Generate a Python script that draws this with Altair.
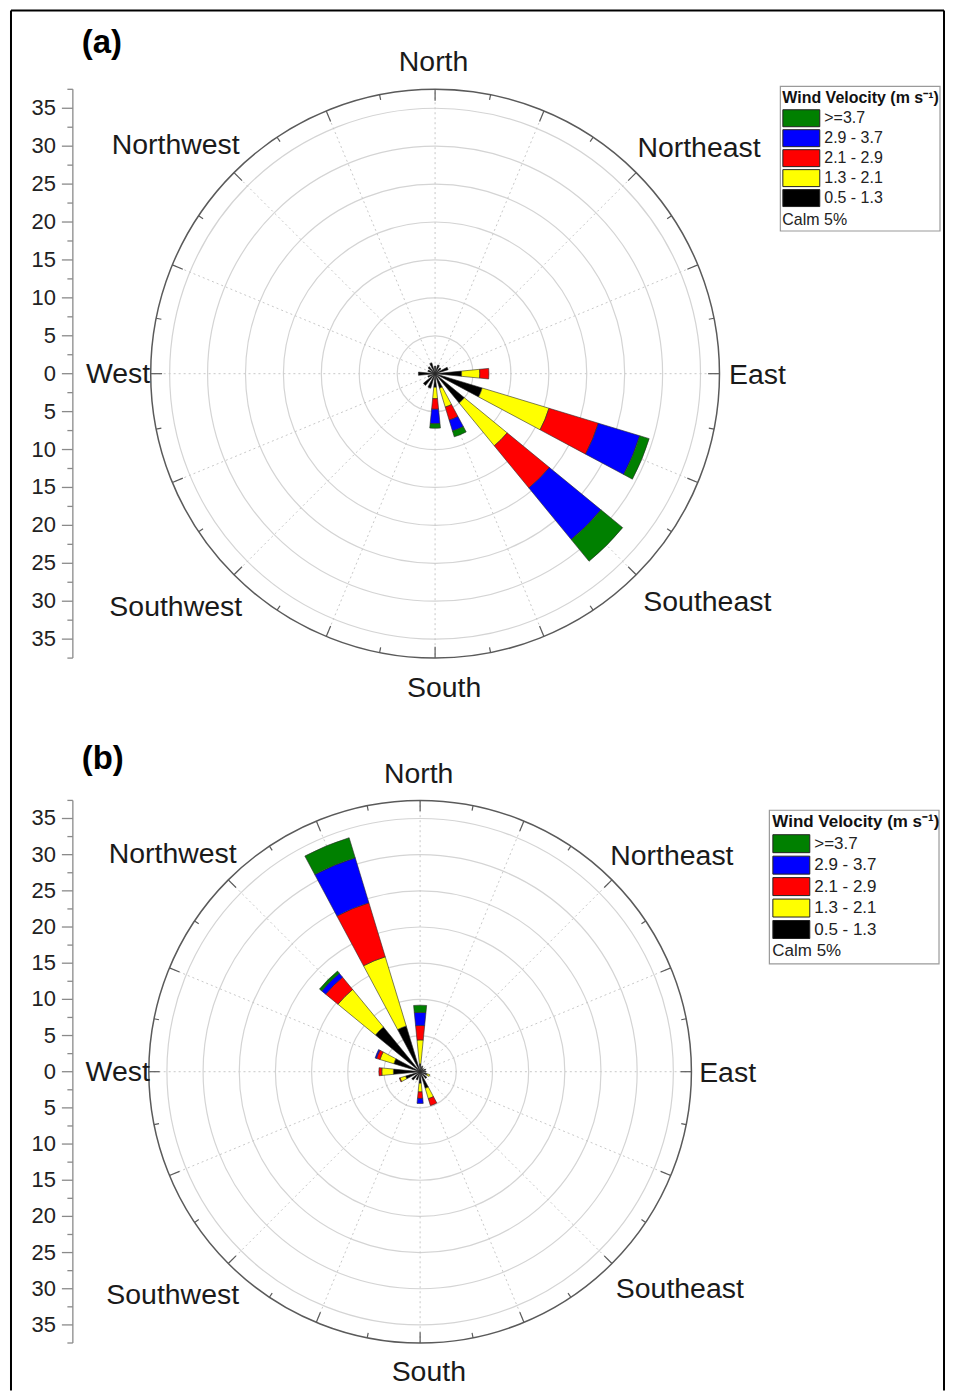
import altair as alt
import pandas as pd
import numpy as np

# ---------------- data ----------------
DIRECTIONS = ["N", "NNE", "NE", "ENE", "E", "ESE", "SE", "SSE",
              "S", "SSW", "SW", "WSW", "W", "WNW", "NW", "NNW"]
DIR_DEG = [0, 22.5, 45, 67.5, 90, 112.5, 135, 157.5,
           180, 202.5, 225, 247.5, 270, 292.5, 315, 337.5]

# speed classes from inner (stacked first) to outer
CLASSES = ["0.5 - 1.3", "1.3 - 2.1", "2.1 - 2.9", "2.9 - 3.7", ">=3.7"]
LEGEND_ORDER = [">=3.7", "2.9 - 3.7", "2.1 - 2.9", "1.3 - 2.1", "0.5 - 1.3"]
LEGEND_COLORS = ["#008000", "#0000ff", "#ff0000", "#ffff00", "#000000"]

# Panel (a): frequency (%) per direction for each wind speed class
A_05_13 = [1.0, 1.2, 1.0, 1.8, 3.5, 6.5, 5.0, 2.0, 1.8, 2.0, 2.0, 1.0, 2.2, 1.0, 1.2, 1.5]
A_13_21 = [0, 0, 0, 0, 2.4, 9.2, 7.3, 2.6, 1.5, 0, 0, 0, 0, 0, 0, 0]
A_21_29 = [0, 0, 0, 0, 1.2, 6.8, 7.2, 1.8, 1.4, 0, 0, 0, 0, 0, 0, 0]
A_29_37 = [0, 0, 0, 0, 0, 5.7, 8.8, 1.5, 1.9, 0, 0, 0, 0, 0, 0, 0]
A_GE_37 = [0, 0, 0, 0, 0, 1.3, 3.7, 0.8, 0.6, 0, 0, 0, 0, 0, 0, 0]

# Panel (b)
B_05_13 = [1.1, 0.8, 0.6, 0.8, 0.8, 1.0, 1.2, 2.4, 1.6, 1.2, 1.5, 2.1, 3.7, 3.8, 8.0, 6.6]
B_13_21 = [3.3, 0, 0, 0, 0, 0.4, 0, 1.5, 1.2, 0, 0, 0.8, 1.6, 2.0, 6.7, 10.0]
B_21_29 = [2.0, 0, 0, 0, 0, 0, 0, 1.0, 0.9, 0, 0, 0.1, 0.4, 0.5, 2.2, 7.8]
B_29_37 = [1.8, 0, 0, 0, 0, 0, 0, 0, 0.7, 0, 0, 0, 0, 0.2, 0.7, 6.5]
B_GE_37 = [1.0, 0, 0, 0, 0, 0, 0, 0, 0, 0, 0, 0, 0, 0, 0.4, 2.9]

RING_VALUES = [5, 10, 15, 20, 25, 30, 35]
R_MAX = 37.5
AXIS_MAJOR = [-35, -30, -25, -20, -15, -10, -5, 0, 5, 10, 15, 20, 25, 30, 35]
AXIS_MINOR = [-37.5, -32.5, -27.5, -22.5, -17.5, -12.5, -7.5, -2.5,
              2.5, 7.5, 12.5, 17.5, 22.5, 27.5, 32.5, 37.5]
COMPASS_LABELS = ["North", "Northeast", "East", "Southeast",
                  "South", "Southwest", "West", "Northwest"]
CALM_TEXT = "Calm 5%"
LEGEND_TITLE = "Wind Velocity (m s\u207b\u00b9)"

# ---------------- layout constants ----------------
FONT = "Liberation Sans"
BAR_HALF_WIDTH = 5.625
PLOT_LEFT, PLOT_RIGHT = 72, 935
AXIS_GRAY = "#8a8a8a"
FRAME = dict(left=10, right=945, top=9, bottom=1392)   # page pixels of the figure frame
LABEL_POS = {  # label centres, in radial units relative to the rose centre
    "North": (-0.2, 41.1), "Northeast": (34.8, 29.8), "East": (42.5, -0.2),
    "Southeast": (35.9, -30.1), "South": (1.2, -41.5), "Southwest": (-34.2, -30.8),
    "West": (-41.8, 0.0), "Northwest": (-34.2, 30.1),
}


def segments_frame(series):
    rows = []
    for i, (d, deg) in enumerate(zip(DIRECTIONS, DIR_DEG)):
        cum = 0.0
        for cls, vals in zip(CLASSES, series):
            v = vals[i]
            if v > 0:
                rows.append(dict(dir=d, cls=cls, t0=deg - BAR_HALF_WIDTH, t1=deg + BAR_HALF_WIDTH,
                                 r0=cum, r1=cum + v, cx=0.0, cy=0.0))
                cum += v
    return pd.DataFrame(rows)


def panel(tag, series, px, cx_page, cy_page, legend_xy, legend_font, sym_h, row_pad,
          box, calm_xy, tag_xy, with_frame):
    xdom = [(PLOT_LEFT - cx_page) / px, (PLOT_RIGHT - cx_page) / px]
    W = PLOT_RIGHT - PLOT_LEFT
    H = 2 * R_MAX * px
    xs = alt.Scale(domain=xdom, nice=False, zero=False)
    ys = alt.Scale(domain=[-R_MAX, R_MAX], nice=False, zero=False)
    rs = alt.Scale(type="linear", domain=[0, R_MAX], range=[0, R_MAX * px], zero=True)
    ts = alt.Scale(domain=[0, 360], range=[0, 2 * np.pi], zero=True)

    X = lambda f: alt.X(f, type="quantitative", scale=xs, axis=None)
    Y = lambda f: alt.Y(f, type="quantitative", scale=ys, axis=None)
    ux = lambda p: (p - cx_page) / px
    uy = lambda p: (cy_page - p) / px

    layers = []

    # ---- figure frame (left, top, right) ----
    if with_frame:
        fr = pd.DataFrame({
            "x0": [ux(FRAME["left"]), ux(FRAME["left"]), ux(FRAME["right"])],
            "x1": [ux(FRAME["left"]), ux(FRAME["right"]), ux(FRAME["right"])],
            "y0": [uy(FRAME["bottom"]), uy(FRAME["top"]), uy(FRAME["top"])],
            "y1": [uy(FRAME["top"]), uy(FRAME["top"]), uy(FRAME["bottom"])],
        })
        layers.append(alt.Chart(fr).mark_rule(stroke="#000", strokeWidth=2).encode(
            x=X("x0"), x2="x1:Q", y=Y("y0"), y2="y1:Q"))

    # ---- left value axis: domain line, major/minor ticks, labels ----
    ax_x = xdom[0]
    dom_df = pd.DataFrame({"x": [ax_x], "y0": [-R_MAX], "y1": [R_MAX]})
    layers.append(alt.Chart(dom_df).mark_rule(stroke=AXIS_GRAY, strokeWidth=1.3).encode(
        x=X("x"), y=Y("y0"), y2="y1:Q"))
    major = pd.DataFrame({"v": AXIS_MAJOR, "x0": ax_x - 11.0 / px, "x1": ax_x,
                          "lab": [str(abs(v)) for v in AXIS_MAJOR], "lx": ax_x - 17.0 / px})
    layers.append(alt.Chart(major).mark_rule(stroke=AXIS_GRAY, strokeWidth=1.3).encode(
        x=X("x0"), x2="x1:Q", y=Y("v")))
    layers.append(alt.Chart(major).mark_text(font=FONT, fontSize=22, color="#222",
                                             align="right", baseline="middle").encode(
        x=X("lx"), y=Y("v"), text="lab:N"))
    minor = pd.DataFrame({"v": AXIS_MINOR, "x0": ax_x - 5.5 / px, "x1": ax_x})
    layers.append(alt.Chart(minor).mark_rule(stroke=AXIS_GRAY, strokeWidth=1.3).encode(
        x=X("x0"), x2="x1:Q", y=Y("v")))

    # rings
    rings = pd.DataFrame({"r": RING_VALUES, "t0": 0.0, "t1": 360.0, "cx": 0.0, "cy": 0.0})
    layers.append(alt.Chart(rings).mark_arc(filled=False, stroke="#d4d4d4", strokeWidth=1.2).encode(
        x=X("cx"), y=Y("cy"),
        theta=alt.Theta("t0:Q", scale=ts, stack=False), theta2="t1:Q",
        radius=alt.Radius("r:Q", scale=rs, stack=False)))

    # dashed spokes every 22.5 degrees
    ang = np.radians(np.array(DIR_DEG))
    spokes = pd.DataFrame({"x0": 0.0, "y0": 0.0, "x1": R_MAX * np.sin(ang), "y1": R_MAX * np.cos(ang)})
    layers.append(alt.Chart(spokes).mark_rule(stroke="#c8c8c8", strokeWidth=1, strokeDash=[2, 3]).encode(
        x=X("x0"), y=Y("y0"), x2="x1:Q", y2="y1:Q"))

    # outer circle
    outer = pd.DataFrame({"r": [R_MAX], "t0": [0.0], "t1": [360.0], "cx": [0.0], "cy": [0.0]})
    layers.append(alt.Chart(outer).mark_arc(filled=False, stroke="#5a5a5a", strokeWidth=1.5).encode(
        x=X("cx"), y=Y("cy"),
        theta=alt.Theta("t0:Q", scale=ts, stack=False), theta2="t1:Q",
        radius=alt.Radius("r:Q", scale=rs, stack=False)))

    # ticks on the outer circle
    tdeg = np.arange(0, 360, 11.25)
    tlen = np.where(np.isclose(tdeg % 22.5, 0), 1.5, 0.7)
    ta = np.radians(tdeg)
    ticks = pd.DataFrame({"x0": R_MAX * np.sin(ta), "y0": R_MAX * np.cos(ta),
                          "x1": (R_MAX - tlen) * np.sin(ta), "y1": (R_MAX - tlen) * np.cos(ta)})
    layers.append(alt.Chart(ticks).mark_rule(stroke="#5a5a5a", strokeWidth=1.2).encode(
        x=X("x0"), y=Y("y0"), x2="x1:Q", y2="y1:Q"))

    # stacked wind-rose bars
    half = sym_h / 2.0
    sym_path = "M-1,-1H%.3fV1H-1Z" % (37.0 / half - 1)
    bars = segments_frame(series)
    layers.append(alt.Chart(bars).mark_arc(stroke="#2a2a2a", strokeWidth=0.6).encode(
        x=X("cx"), y=Y("cy"),
        theta=alt.Theta("t0:Q", scale=ts, stack=False), theta2="t1:Q",
        radius=alt.Radius("r1:Q", scale=rs, stack=False), radius2="r0:Q",
        color=alt.Color("cls:N", scale=alt.Scale(domain=LEGEND_ORDER, range=LEGEND_COLORS),
                        legend=alt.Legend(
                            title=LEGEND_TITLE, orient="none",
                            legendX=legend_xy[0], legendY=legend_xy[1],
                            symbolType=sym_path, symbolSize=sym_h * sym_h,
                            symbolStrokeColor="#222", symbolStrokeWidth=1, symbolOpacity=1,
                            labelOffset=41 - sym_h, labelFont=FONT, labelFontSize=legend_font,
                            labelColor="#222", titleFont=FONT, titleFontSize=legend_font,
                            titleFontWeight="bold", titleColor="#111", titlePadding=3,
                            rowPadding=row_pad, padding=0, labelLimit=200, titleLimit=300)),
        order=alt.Order("r0:Q")))

    # compass labels
    lab = pd.DataFrame({"name": COMPASS_LABELS,
                        "lx": [LABEL_POS[n][0] for n in COMPASS_LABELS],
                        "ly": [LABEL_POS[n][1] for n in COMPASS_LABELS]})
    layers.append(alt.Chart(lab).mark_text(font=FONT, fontSize=28.5, color="#1a1a1a",
                                           align="center", baseline="middle").encode(
        x=X("lx"), y=Y("ly"), text="name:N"))

    tag_df = pd.DataFrame({"t": [tag], "lx": [tag_xy[0]], "ly": [tag_xy[1]]})
    layers.append(alt.Chart(tag_df).mark_text(font=FONT, fontSize=33, fontWeight="bold", color="#000",
                                              align="center", baseline="middle").encode(
        x=X("lx"), y=Y("ly"), text="t:N"))

    box_df = pd.DataFrame({"x0": [ux(box[0])], "x1": [ux(box[1])], "y0": [uy(box[2])], "y1": [uy(box[3])]})
    layers.append(alt.Chart(box_df).mark_rect(fill="white", fillOpacity=0, stroke="#9a9a9a",
                                              strokeWidth=1.2).encode(
        x=X("x0"), x2="x1:Q", y=Y("y0"), y2="y1:Q"))

    calm_df = pd.DataFrame({"t": [CALM_TEXT], "lx": [ux(calm_xy[0])], "ly": [uy(calm_xy[1])]})
    layers.append(alt.Chart(calm_df).mark_text(font=FONT, fontSize=legend_font, color="#222",
                                               align="left", baseline="middle").encode(
        x=X("lx"), y=Y("ly"), text="t:N"))

    return alt.layer(*layers).properties(width=W, height=H)


PX_A, CX_A, CY_A = 7.6, 435, 373
PX_B, CX_B, CY_B = 7.25, 420, 1070
TOP_A = CY_A - R_MAX * PX_A
TOP_B = CY_B - R_MAX * PX_B

pa = panel("(a)", [A_05_13, A_13_21, A_21_29, A_29_37, A_GE_37], PX_A, CX_A, CY_A,
           legend_xy=(783 - PLOT_LEFT, 89 - TOP_A), legend_font=16, sym_h=17, row_pad=-2.0,
           box=(781, 941, 85, 230), calm_xy=(783, 219),
           tag_xy=((101 - CX_A) / PX_A, (CY_A - 42) / PX_A), with_frame=True)
pb = panel("(b)", [B_05_13, B_13_21, B_21_29, B_29_37, B_GE_37], PX_B, CX_B, CY_B,
           legend_xy=(773 - PLOT_LEFT, 812 - TOP_B), legend_font=17, sym_h=18, row_pad=-1.5,
           box=(770, 940, 808, 962), calm_xy=(773, 949),
           tag_xy=((102 - CX_B) / PX_B, (CY_B - 757) / PX_B), with_frame=False)

chart = alt.vconcat(pa, pb, spacing=TOP_B - (TOP_A + 2 * R_MAX * PX_A) + 2.5, bounds="flush").resolve_scale(
    x="independent", y="independent", color="independent",
    radius="independent", theta="independent"
).resolve_legend(color="independent").properties(
    padding={"left": 1, "top": 0, "right": 0, "bottom": 0}
).configure(font=FONT).configure_view(stroke=None)

chart.save("out.html", embed_options={"renderer": "svg", "actions": False})
